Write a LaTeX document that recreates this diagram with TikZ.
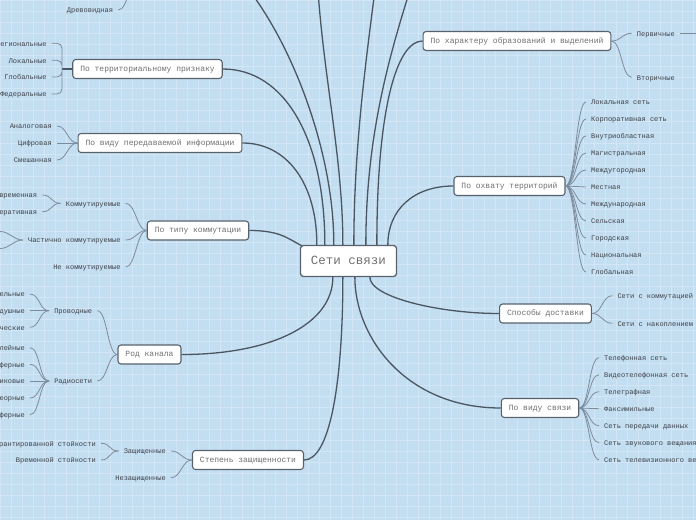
\documentclass[tikz,border=0pt]{standalone}
\usepackage{fontspec}
\newfontfamily\mapfont{Liberation Mono}
\usetikzlibrary{calc}

\definecolor{paper}{RGB}{196,222,241}
\definecolor{paperline}{RGB}{211,230,246}
\definecolor{linkgray}{RGB}{74,86,98}
\definecolor{twiggray}{RGB}{125,140,156}
\definecolor{boxline}{RGB}{88,98,108}
\definecolor{boxtext}{RGB}{112,112,112}
\definecolor{leaftext}{RGB}{58,64,72}

\begin{document}
\begin{tikzpicture}[
    x=1pt, y=-1pt,
    box/.style={
        draw=boxline,
        line width=1.1pt,
        fill=white,
        rounded corners=3pt,
        minimum height=19pt,
        inner xsep=7.5pt,
        inner ysep=0pt,
        text height=6pt,
        text depth=1.5pt,
        text=boxtext,
        font=\mapfont\fontsize{8}{9}\selectfont
    },
    hub/.style={
        box,
        line width=1.3pt,
        minimum width=96pt,
        minimum height=31pt,
        text height=9pt,
        font=\mapfont\fontsize{12.5}{14}\selectfont
    },
    leaf/.style={
        inner xsep=5pt,
        inner ysep=1pt,
        text height=7pt,
        text depth=1.5pt,
        text=leaftext,
        font=\mapfont\fontsize{7}{8}\selectfont
    },
    leafl/.style={leaf, anchor=east},
    leafr/.style={leaf, anchor=west},
    link/.style={draw=linkgray, line width=1.3pt},
    twig/.style={draw=twiggray, line width=0.8pt},
    rfan/.style={to path={.. controls +(10,0) and +(-10,0) .. (\tikztotarget)}},
    lfan/.style={to path={.. controls +(-10,0) and +(10,0) .. (\tikztotarget)}}
]
    \useasboundingbox (0,0) rectangle (696,520);
    \clip (0,0) rectangle (696,520);
    \fill[paper] (0,0) rectangle (696,520);
    \draw[paperline, line width=0.5pt, step=11pt] (0,520) grid (696,0);

    % topics
    \node[hub] (net) at (348.5,261) {Сети связи};

    \node[box] (terr) at (147.5,69) {По территориальному признаку};
    \node[box] (info) at (160,143) {По виду передаваемой информации};
    \node[box] (comm) at (198,230.5) {По типу коммутации};
    \node[box] (chan) at (149.5,354.5) {Род канала};
    \node[box] (prot) at (248,460) {Степень защищенности};

    \node[box] (form) at (517,41) {По характеру образований и выделений};
    \node[box] (area) at (509.5,186) {По охвату территорий};
    \node[box] (deliv) at (545.5,313.5) {Способы доставки};
    \node[box] (kind) at (540,408) {По виду связи};

    % topics above the page
    \coordinate (up1) at (245,-15);
    \coordinate (up2) at (318,-10);
    \coordinate (up3) at (375,-10);
    \coordinate (up4) at (410,-10);

    \draw[link] (info.east) .. controls +(44,0) and +(0,-62) .. ($(net.north west)+(17,0)$);
    \draw[link] (terr.east) .. controls +(62,0) and +(0,-106) .. ($(net.north west)+(25,0)$);
    \draw[link] (up1) .. controls +(45,55) and +(0,-96) .. ($(net.north west)+(34,0)$);
    \draw[link] (up2) .. controls +(6,90) and +(0,-86) .. ($(net.north west)+(43,0)$);
    \draw[link] (up3) .. controls +(-9,70) and +(0,-96) .. ($(net.north west)+(54,0)$);
    \draw[link] (up4) .. controls +(-22,70) and +(0,-106) .. ($(net.north west)+(66,0)$);
    \draw[link] (form.west) .. controls +(-25,0) and +(0,-140) .. ($(net.north west)+(77,0)$);
    \draw[link] (area.west) .. controls +(-40,0) and +(0,-35) .. ($(net.north west)+(88,0)$);
    \draw[link] (comm.east) .. controls +(30,0) and +(-15,-8) .. ($(net.north west)+(2,1)$);
    \draw[link] (chan.east) .. controls +(90,0) and +(0,47) .. ($(net.south west)+(33,0)$);
    \draw[link] (prot.east) .. controls +(25,0) and +(0,110) .. ($(net.south west)+(43,0)$);
    \draw[link] (kind.west) .. controls +(-95,0) and +(0,60) .. ($(net.south west)+(55,0)$);
    \draw[link] (deliv.west) .. controls +(-60,0) and +(0,20) .. ($(net.south west)+(70,0)$);

    % leaf of a topic above the page
    \node[leafl] (tree) at (118.3,10) {Древовидная};
    \coordinate (treeup) at (140,-25);
    \draw[twig] (tree.east) to[rfan] (treeup);

    % territorial
    \node[leafl] (terr1) at (51.7,43.3) {Региональные};
    \node[leafl] (terr2) at (51.7,60.3) {Локальные};
    \node[leafl] (terr3) at (51.7,77) {Глобальные};
    \node[leafl] (terr4) at (51.7,94) {Федеральные};
    \coordinate (terrfork) at (62,69);
    \draw[link] (terr.west) -- (terrfork);
    \draw[twig, rounded corners=5pt] (terrfork) |- (terr1.east)
        (terrfork) |- (terr2.east) (terrfork) |- (terr3.east)
        (terrfork) |- (terr4.east);

    % information
    \node[leafl] (info1) at (57,126) {Аналоговая};
    \node[leafl] (info2) at (57,143) {Цифровая};
    \node[leafl] (info3) at (57,160) {Смешанная};
    \path (info.west) edge[twig, lfan] (info1.east)
        edge[twig, lfan] (info2.east) edge[twig, lfan] (info3.east);

    % switching
    \node[leafl] (comm1) at (125.7,203.3) {Коммутируемые};
    \node[leafl] (comm2) at (125.7,240) {Частично коммутируемые};
    \node[leafl] (comm3) at (125.7,267) {Не коммутируемые};
    \path (comm.west) edge[twig, lfan] (comm1.east)
        edge[twig, lfan] (comm2.east) edge[twig, lfan] (comm3.east);

    \node[leafl] (comm11) at (42.3,195) {Долговременная};
    \node[leafl] (comm12) at (42.3,211.7) {Оперативная};
    \path (comm1.west) edge[twig, lfan] (comm11.east)
        edge[twig, lfan] (comm12.east);

    \coordinate (comm21) at (0,231.5);
    \coordinate (comm22) at (0,248.5);
    \path (comm2.west) edge[twig, lfan] (comm21)
        edge[twig, lfan] (comm22);

    % channel
    \node[leafl] (chan1) at (97.3,310.7) {Проводные};
    \node[leafl] (chan2) at (97.3,381) {Радиосети};
    \path (chan.west) edge[twig, lfan] (chan1.east)
        edge[twig, lfan] (chan2.east);

    \node[leafl] (chan11) at (30,294) {Кабельные};
    \node[leafl] (chan12) at (30,310.7) {Воздушные};
    \node[leafl] (chan13) at (30,327.3) {Оптические};
    \path (chan1.west) edge[twig, lfan] (chan11.east)
        edge[twig, lfan] (chan12.east) edge[twig, lfan] (chan13.east);

    \node[leafl] (chan21) at (30,347.7) {Радиорелейные};
    \node[leafl] (chan22) at (30,364.3) {Тропосферные};
    \node[leafl] (chan23) at (30,381) {Спутниковые};
    \node[leafl] (chan24) at (30,398) {Метеорные};
    \node[leafl] (chan25) at (30,414.7) {Ионосферные};
    \path (chan2.west) edge[twig, lfan] (chan21.east)
        edge[twig, lfan] (chan22.east) edge[twig, lfan] (chan23.east)
        edge[twig, lfan] (chan24.east) edge[twig, lfan] (chan25.east);

    % protection
    \node[leafl] (prot1) at (171,451) {Защищенные};
    \node[leafl] (prot2) at (171,477.7) {Незащищенные};
    \path (prot.west) edge[twig, lfan] (prot1.east)
        edge[twig, lfan] (prot2.east);

    \node[leafl] (prot11) at (101,443.3) {Гарантированной стойкости};
    \node[leafl] (prot12) at (101,460) {Временной стойкости};
    \path (prot1.west) edge[twig, lfan] (prot11.east)
        edge[twig, lfan] (prot12.east);

    % formation
    \node[leafr] (form1) at (631.7,33.3) {Первичные};
    \node[leafr] (form2) at (631.7,77.3) {Вторичные};
    \path (form.east) edge[twig, rfan] (form1.west)
        edge[twig, rfan] (form2.west);
    \coordinate (form1out) at (700,33.3);
    \draw[twig] (form1.east) -- (form1out);

    % coverage
    \node[leafr] (area1) at (586,102) {Локальная сеть};
    \node[leafr] (area2) at (586,119) {Корпоративная сеть};
    \node[leafr] (area3) at (586,136) {Внутриобластная};
    \node[leafr] (area4) at (586,153) {Магистральная};
    \node[leafr] (area5) at (586,170) {Междугородная};
    \node[leafr] (area6) at (586,187) {Местная};
    \node[leafr] (area7) at (586,204) {Международная};
    \node[leafr] (area8) at (586,221) {Сельская};
    \node[leafr] (area9) at (586,238) {Городская};
    \node[leafr] (area10) at (586,255) {Национальная};
    \node[leafr] (area11) at (586,272) {Глобальная};
    \path (area.east) edge[twig, rfan] (area1.west)
        edge[twig, rfan] (area2.west) edge[twig, rfan] (area3.west)
        edge[twig, rfan] (area4.west) edge[twig, rfan] (area5.west)
        edge[twig, rfan] (area6.west) edge[twig, rfan] (area7.west)
        edge[twig, rfan] (area8.west) edge[twig, rfan] (area9.west)
        edge[twig, rfan] (area10.west) edge[twig, rfan] (area11.west);

    % delivery
    \node[leafr] (deliv1) at (612.3,295.7) {Сети с коммутацией};
    \node[leafr] (deliv2) at (612.3,323.3) {Сети с накоплением};
    \path (deliv.east) edge[twig, rfan] (deliv1.west)
        edge[twig, rfan] (deliv2.west);

    % kind
    \node[leafr] (kind1) at (599,357.7) {Телефонная сеть};
    \node[leafr] (kind2) at (599,374.7) {Видеотелефонная сеть};
    \node[leafr] (kind3) at (599,391.7) {Телеграфная};
    \node[leafr] (kind4) at (599,408.7) {Факсимильные};
    \node[leafr] (kind5) at (599,425.7) {Сеть передачи данных};
    \node[leafr] (kind6) at (599,442.7) {Сеть звукового вещания};
    \node[leafr] (kind7) at (599,459.7) {Сеть телевизионного вещания};
    \path (kind.east) edge[twig, rfan] (kind1.west)
        edge[twig, rfan] (kind2.west) edge[twig, rfan] (kind3.west)
        edge[twig, rfan] (kind4.west) edge[twig, rfan] (kind5.west)
        edge[twig, rfan] (kind6.west) edge[twig, rfan] (kind7.west);
\end{tikzpicture}
\end{document}
